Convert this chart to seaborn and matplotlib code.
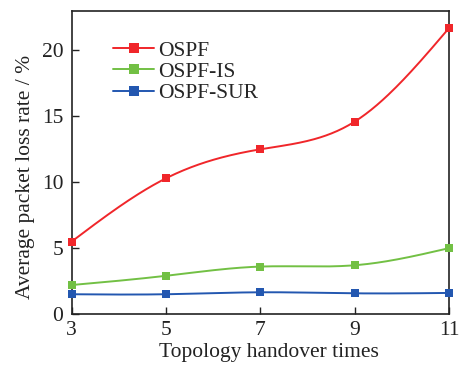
import numpy as np
import pandas as pd
import matplotlib
matplotlib.use("Agg")
import matplotlib.pyplot as plt
import seaborn as sns
from matplotlib.lines import Line2D

# Data
handover_times = [3, 5, 7, 9, 11]
ospf = [5.5, 10.3, 12.5, 14.6, 21.7]
ospf_is = [2.2, 2.9, 3.6, 3.7, 5.0]
ospf_sur = [1.5, 1.5, 1.65, 1.57, 1.6]

series_names = ["OSPF", "OSPF-IS", "OSPF-SUR"]
series_values = [ospf, ospf_is, ospf_sur]

RED = "#F0262A"
GREEN = "#72C044"
BLUE = "#2357B0"
COLORS = [RED, GREEN, BLUE]


def natural_spline(x, y, n=200):
    # natural cubic spline, only used to draw the smoothed connecting line
    x = np.asarray(x, float)
    y = np.asarray(y, float)
    k = len(x)
    h = np.diff(x)
    A = np.zeros((k, k))
    b = np.zeros(k)
    A[0, 0] = A[-1, -1] = 1
    for i in range(1, k - 1):
        A[i, i - 1] = h[i - 1]
        A[i, i] = 2 * (h[i - 1] + h[i])
        A[i, i + 1] = h[i]
        b[i] = 6 * ((y[i + 1] - y[i]) / h[i] - (y[i] - y[i - 1]) / h[i - 1])
    m = np.linalg.solve(A, b)
    xs = np.linspace(x[0], x[-1], n)
    idx = np.clip(np.searchsorted(x, xs) - 1, 0, k - 2)
    x0, x1 = x[idx], x[idx + 1]
    hh = x1 - x0
    t0, t1 = x1 - xs, xs - x0
    ys = (m[idx] * t0 ** 3 + m[idx + 1] * t1 ** 3) / (6 * hh) \
        + (y[idx] / hh - m[idx] * hh / 6) * t0 \
        + (y[idx + 1] / hh - m[idx + 1] * hh / 6) * t1
    return xs, ys


sns.set_style("ticks")
plt.rcParams["font.family"] = ["Liberation Serif", "DejaVu Serif"]
plt.rcParams["font.size"] = 15
plt.rcParams["xtick.direction"] = "in"
plt.rcParams["ytick.direction"] = "in"

fig = plt.figure(figsize=(4.61, 3.65), dpi=100)
ax = fig.add_axes([0.1555, 0.1397, 0.8185, 0.8303])

handles = []
for name, vals, color in zip(series_names, series_values, COLORS):
    xs, ys = natural_spline(handover_times, vals)
    sns.lineplot(x=xs, y=ys, color=color, linewidth=1.4, ax=ax, sort=False)
    df = pd.DataFrame({"x": handover_times, "y": vals})
    sns.scatterplot(data=df, x="x", y="y", color=color, marker="s", s=40,
                    edgecolor=color, linewidth=0, ax=ax, zorder=5, clip_on=False)
    handles.append(Line2D([], [], color=color, linewidth=1.4, marker="s",
                          markersize=6.5, markeredgewidth=0))

ax.set_xlim(3, 11)
ax.set_ylim(0, 23)
ax.set_xticks(handover_times)
ax.set_yticks([0, 5, 10, 15, 20])
ax.tick_params(axis="both", labelsize=15.5, length=5, width=1, colors="#222222")
ax.tick_params(axis="y", pad=6)
ax.tick_params(axis="x", pad=5)
for sp in ax.spines.values():
    sp.set_linewidth(1.2)
    sp.set_color("#222222")

ax.set_xlabel("Topology handover times", fontsize=15.5, color="#222222")
ax.set_ylabel("Average packet loss rate / %", fontsize=15.5, color="#222222")
ax.xaxis.set_label_coords(0.524, -0.095)
ax.yaxis.set_label_coords(-0.097, 0.452)

ax.legend(handles, series_names, loc="upper left", bbox_to_anchor=(0.087, 0.93),
          frameon=False, fontsize=15.5, handlelength=1.9, handletextpad=0.2,
          labelspacing=0.05, borderaxespad=0)

fig.savefig("out.png", dpi=100)
